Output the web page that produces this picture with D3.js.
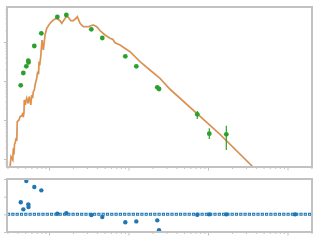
<!DOCTYPE html>
<html><head><meta charset="utf-8">
<script src="https://cdn.jsdelivr.net/npm/d3@7"></script>
<style>body{margin:0;background:#fff}svg{display:block}</style>
</head><body>
<svg id="c" width="320" height="240"></svg>
<script>
// model light curve (time, flux)
const modelT = [0.323,0.333,0.350,0.356,0.362,0.368,0.374,0.385,0.392,0.399,0.419,0.432,0.457,0.468,0.475,0.485,0.489,0.503,0.512,0.524,0.544,0.565,0.589,0.606,0.620,0.635,0.653,0.667,0.700,0.721,0.738,0.749,0.762,0.786,0.817,0.848,0.891,0.936,1.03,1.133,1.25,1.375,1.444,1.544,1.67,1.749,1.875,2.022,2.186,2.27,2.455,2.70,3.12,3.608,3.98,4.38,5.06,5.85,6.33,6.77,7.82,10.44,13.95,18.6,24.9,33.3,141.6,371.5,500];
const modelF = [0.613,1.146,0.943,1.88,1.3,2.4,2.53,3.40,2.9,9.05,10.0,12.15,12.9,15.2,11.8,16.3,32.6,24.3,30.5,36.0,26.8,39.6,24.3,43.8,36.5,53.2,58.8,78.9,117,173,150,313,250,420,1125,624,1511,2245,3015,3664,4053,3516,3015,3664,4643,4297,3516,3516,4053,4456,3015,2467,2467,2728,2467,1950,1511,1244,1173,959,838,564,313,191,117,61.3,4.30,0.613,0.33];
// observations
const obsT = [0.4406,0.475,0.518,0.549,0.552,0.653,0.80,1.272,1.651,3.405,4.68,9.11,12.53,23.0,24.2,73.3,103.8,169.9,1242];
const obsF = [77.6,160.3,238,331.6,300,789,1671,4375,4922,2117,1267,430,238,68.9,62.3,14.0,4.45,4.30,0.3];
const obsLo = [null,null,null,null,null,null,null,null,null,null,null,null,null,null,null,10.6,3.26,1.70,null];
const obsHi = [null,null,null,null,null,null,null,null,null,null,null,null,null,null,null,17.0,6.13,7.14,null];
// residuals
const resid = [0.68,0.283,1.885,0.566,0.413,1.545,1.358,0.04,0.06,-0.04,-0.15,-0.45,-0.40,-0.34,-0.90,-0.02,0.0,0.0,0.0];
const majorTicks = [1,10,100,1000];
const residTicks = [-1,0,1,2];

const svg = d3.select("#c");
const L=7,R=312,T1=7,B1=167,T2=179,B2=232;
const x = d3.scaleLog().domain([0.296,2033]).range([L,R]);
const y = d3.scaleLog().domain([0.623,7890]).range([B1,T1]);
const yr = d3.scaleLinear().domain([-1,2]).range([B2,T2]);
const grey = "#c2c2c2";

const defs = svg.append("defs");
defs.append("clipPath").attr("id","c1").append("rect").attr("x",L).attr("y",T1).attr("width",R-L).attr("height",B1-T1);
defs.append("clipPath").attr("id","c2").append("rect").attr("x",L-3).attr("y",T2-3).attr("width",R-L+6).attr("height",B2-T2+6);

function axisStyle(g){
  g.select(".domain").remove();
  g.selectAll(".tick line").attr("stroke",grey).attr("stroke-width",1);
  g.selectAll("text").remove();
}
const minorX = x.ticks().filter(v=>!majorTicks.includes(v));
const minorY = y.ticks().filter(v=>!majorTicks.includes(v));
[B1,B2].forEach(b=>{
  svg.append("g").attr("transform",`translate(0,${b})`).call(d3.axisBottom(x).tickValues(minorX).tickSize(2).tickFormat("")).call(axisStyle);
  svg.append("g").attr("transform",`translate(0,${b})`).call(d3.axisBottom(x).tickValues(majorTicks).tickSize(3.5).tickFormat("")).call(axisStyle);
});
svg.append("g").attr("transform",`translate(${L},0)`).call(d3.axisLeft(y).tickValues(minorY).tickSize(1.5).tickFormat("")).call(axisStyle);
svg.append("g").attr("transform",`translate(${L},0)`).call(d3.axisLeft(y).tickValues(majorTicks).tickSize(3).tickFormat("")).call(axisStyle);
svg.append("g").attr("transform",`translate(${L},0)`).call(d3.axisLeft(yr).tickValues(residTicks).tickSize(3).tickFormat("")).call(axisStyle);

// top panel
const gTop = svg.append("g").attr("clip-path","url(#c1)");
const model = modelT.map((t,i)=>[t,modelF[i]]);
const line = d3.line().x(d=>x(d[0])).y(d=>y(d[1]));
gTop.append("path").datum(model).attr("d",line).attr("fill","none").attr("stroke","#9a9a9a").attr("stroke-width",1.8).attr("opacity",0.7);
gTop.append("path").datum(model).attr("d",line).attr("fill","none").attr("stroke","#ff7f0e").attr("stroke-width",1.1).attr("opacity",0.85);
const obs = obsT.map((t,i)=>({t,f:obsF[i],lo:obsLo[i],hi:obsHi[i],r:resid[i]}));
gTop.selectAll("line.err").data(obs.filter(d=>d.lo!==null)).join("line")
  .attr("x1",d=>x(d.t)).attr("x2",d=>x(d.t)).attr("y1",d=>y(d.lo)).attr("y2",d=>y(d.hi))
  .attr("stroke","#2ca02c").attr("stroke-width",1.2);
gTop.selectAll("circle").data(obs).join("circle")
  .attr("cx",d=>x(d.t)).attr("cy",d=>y(d.f)).attr("r",2.4).attr("fill","#2ca02c");

// bottom panel
const gBot = svg.append("g").attr("clip-path","url(#c2)");
gBot.append("line").attr("x1",L).attr("x2",R).attr("y1",yr(0)).attr("y2",yr(0))
  .attr("stroke","#1f77b4").attr("stroke-width",3).attr("stroke-dasharray","3.2,1.1");
gBot.append("line").attr("x1",L).attr("x2",R).attr("y1",yr(0)).attr("y2",yr(0))
  .attr("stroke","#b9d6ee").attr("stroke-width",1.1).attr("stroke-dasharray","1.2,3.1").attr("stroke-dashoffset",-1);
gBot.selectAll("circle").data(obs).join("circle")
  .attr("cx",d=>x(d.t)).attr("cy",d=>yr(d.r)).attr("r",2.2).attr("fill","#1f77b4");

// frames
svg.append("rect").attr("x",L).attr("y",T1).attr("width",R-L).attr("height",B1-T1).attr("fill","none").attr("stroke",grey).attr("stroke-width",2);
svg.append("rect").attr("x",L).attr("y",T2).attr("width",R-L).attr("height",B2-T2).attr("fill","none").attr("stroke",grey).attr("stroke-width",2);
</script>
</body></html>
